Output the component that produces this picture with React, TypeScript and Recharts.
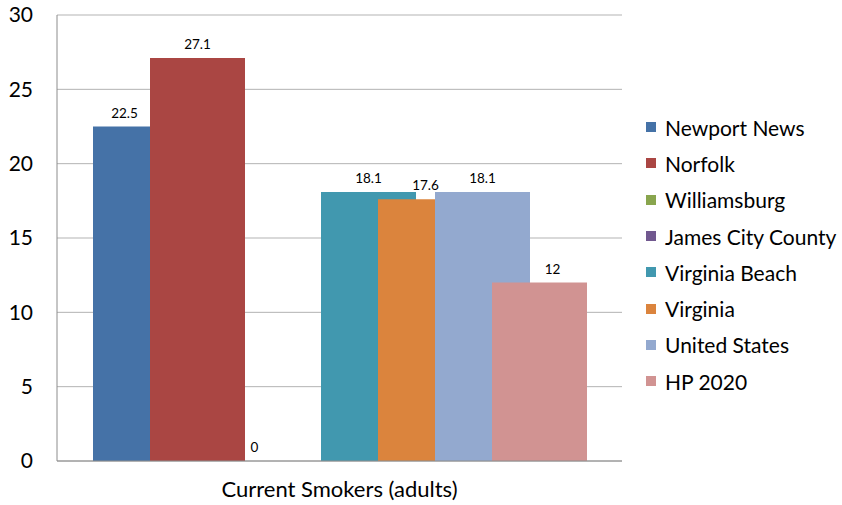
import React from 'react';
import { BarChart, Bar, XAxis, YAxis, CartesianGrid } from 'recharts';

const category = 'Current Smokers (adults)';
const seriesNames = ['Newport News', 'Norfolk', 'Williamsburg', 'James City County', 'Virginia Beach', 'Virginia', 'United States', 'HP 2020'];
const seriesValues: (number | null)[] = [22.5, 27.1, 0, null, 18.1, 17.6, 18.1, 12];
const seriesColors = ['#4572A7', '#AA4643', '#89A54E', '#71588F', '#4198AF', '#DB843D', '#93A9CF', '#D19392'];
const labelShift = [-16, 0, 0, 0, 0, 0, 0, 13];
const yTicks = [0, 5, 10, 15, 20, 25, 30];

const row: Record<string, any> = { name: category };
seriesNames.forEach((n, i) => { row[n] = seriesValues[i]; });
const data = [row];

const FONT = 'Lato, "Open Sans", sans-serif';

const makeLabel = (shift: number) => (props: any) => {
  const { x, y, width, value } = props;
  if (value === null || value === undefined) return null;
  return (
    <text x={Number(x) + Number(width) / 2 + shift} y={Number(y) - 9} textAnchor="middle" fontSize={13.5} fontFamily={FONT} fill="#000">
      {value}
    </text>
  );
};

export default function App() {
  return (
    <div style={{ position: 'absolute', left: 0, top: 0, width: 842, height: 505, background: '#fff' }}>
      <BarChart
        width={842}
        height={505}
        data={data}
        margin={{ top: 15, right: 220, bottom: 0, left: 0 }}
        barSize={95}
        barGap={-38}
      >
        <CartesianGrid vertical={false} stroke="#b3b3b3" strokeWidth={1} />
        <XAxis
          dataKey="name"
          height={44}
          axisLine={{ stroke: '#8c8c8c' }}
          tickLine={false}
          tickSize={0}
          tickMargin={20}
          tick={{ fontSize: 22, fill: '#000', fontFamily: FONT }}
        />
        <YAxis
          width={57}
          domain={[0, 30]}
          ticks={yTicks}
          axisLine={{ stroke: '#8c8c8c' }}
          tickLine={false}
          tickSize={0}
          tickMargin={24}
          tick={{ fontSize: 21, fill: '#000', fontFamily: FONT }}
        />
        {seriesNames.map((n, i) => (
          <Bar
            key={n}
            dataKey={n}
            fill={seriesColors[i]}
            isAnimationActive={false}
            minPointSize={seriesValues[i] === 0 ? 0.01 : 0}
            label={makeLabel(labelShift[i])}
          />
        ))}
      </BarChart>
      <div style={{ position: 'absolute', left: 646, top: 109, fontFamily: FONT, fontSize: 21, color: '#000', whiteSpace: 'nowrap' }}>
        {seriesNames.map((n, i) => (
          <div key={n} style={{ display: 'flex', alignItems: 'center', height: 36.3 }}>
            <span style={{ display: 'inline-block', width: 10, height: 10, background: seriesColors[i], marginRight: 9 }} />
            <span>{n}</span>
          </div>
        ))}
      </div>
    </div>
  );
}
